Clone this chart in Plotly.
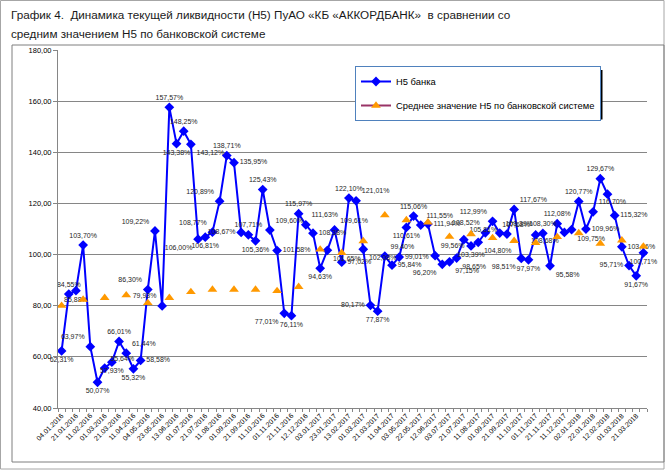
import plotly.graph_objects as go

# ---------------- data ----------------
dates = [
    "04.01.2016", "11.01.2016", "21.01.2016", "01.02.2016", "11.02.2016", "22.02.2016",
    "01.03.2016", "11.03.2016", "21.03.2016", "01.04.2016", "11.04.2016", "21.04.2016",
    "04.05.2016", "11.05.2016", "23.05.2016", "01.06.2016", "13.06.2016", "21.06.2016",
    "01.07.2016", "11.07.2016", "21.07.2016", "01.08.2016", "11.08.2016", "22.08.2016",
    "01.09.2016", "12.09.2016", "21.09.2016", "03.10.2016", "11.10.2016", "21.10.2016",
    "01.11.2016", "11.11.2016", "21.11.2016", "01.12.2016", "12.12.2016", "21.12.2016",
    "03.01.2017", "11.01.2017", "23.01.2017", "01.02.2017", "13.02.2017", "21.02.2017",
    "01.03.2017", "13.03.2017", "21.03.2017", "03.04.2017", "11.04.2017", "21.04.2017",
    "03.05.2017", "11.05.2017", "22.05.2017", "01.06.2017", "12.06.2017", "21.06.2017",
    "03.07.2017", "11.07.2017", "21.07.2017", "01.08.2017", "11.08.2017", "21.08.2017",
    "01.09.2017", "11.09.2017", "21.09.2017", "02.10.2017", "11.10.2017", "23.10.2017",
    "01.11.2017", "13.11.2017", "21.11.2017", "01.12.2017", "11.12.2017", "21.12.2017",
    "02.01.2018", "11.01.2018", "22.01.2018", "01.02.2018", "12.02.2018", "21.02.2018",
    "01.03.2018", "12.03.2018", "21.03.2018", "02.04.2018",
]

bank_h5 = [
    62.31, 84.55, 85.88, 103.70, 63.97, 50.07, 55.64, 57.93, 66.01, 61.44,
    55.32, 58.58, 86.30, 109.22, 79.93, 157.57, 143.38, 148.25, 143.12, 106.00,
    106.81, 108.77, 120.89, 138.71, 135.95, 108.67, 107.71, 105.36, 125.43, 109.60,
    101.58, 77.01, 76.11, 115.97, 111.63, 108.38, 94.63, 101.65, 109.61, 97.02,
    122.10, 121.01, 102.08, 80.17, 77.87, 99.40, 95.84, 99.01, 110.61, 115.06,
    111.55, 111.94, 99.56, 96.20, 97.15, 98.65, 105.81, 103.39, 104.80, 108.52,
    112.99, 108.39, 108.00, 117.67, 98.51, 97.97, 107.68, 108.30, 95.58, 112.08,
    108.68, 109.75, 120.77, 109.96, 116.70, 129.67, 123.60, 115.32, 103.06, 95.71,
    91.67, 100.71,
]

# average over the banking system (monthly, first date of each month)
system_dates = [
    "04.01.2016", "01.02.2016", "01.03.2016", "01.04.2016", "04.05.2016", "01.06.2016",
    "01.07.2016", "01.08.2016", "01.09.2016", "03.10.2016", "01.11.2016", "01.12.2016",
    "03.01.2017", "01.02.2017", "01.03.2017", "03.04.2017", "03.05.2017", "01.06.2017",
    "03.07.2017", "01.08.2017", "01.09.2017", "02.10.2017", "01.11.2017", "01.12.2017",
    "02.01.2018", "01.02.2018", "01.03.2018", "02.04.2018",
]
system_h5 = [
    80.0, 82.4, 83.1, 84.1, 81.1, 83.1, 85.4, 86.3, 86.3, 86.3,
    85.8, 87.4, 102.0, 100.7, 105.3, 115.4, 113.5, 112.6, 107.0, 108.0,
    106.5, 105.4, 104.6, 106.9, 108.4, 104.3, 105.6, 103.2,
]

y_ticks = [40, 60, 80, 100, 120, 140, 160, 180]

# ---------------- styling helpers ----------------
POS = {"T": "top center", "B": "bottom center", "TL": "top left", "TR": "top right",
       "BL": "bottom left", "BR": "bottom right", "L": "middle left", "R": "middle right",
       "N": "top center"}
label_pos = (
    "B T B T TL B TR B T TR B R TL TL TL T B T BR BL "
    "B TL TL T R L T B T TR R BL B T TR R B BR TR R "
    "T TR BR L B TR R R B T TR R TR BL BR BR TR B BR TL "
    "TL TR N TR BL B TL T BR T BL BR T R TR T N R R L "
    "B B"
).split()


def fmt(v):
    return f"{v:.2f}".replace(".", ",") + "%"


bank_text = ["" if p == "N" else fmt(v) for v, p in zip(bank_h5, label_pos)]

# map system values onto full category list (gaps elsewhere)
sys_map = dict(zip(system_dates, system_h5))
system_full = [sys_map.get(d) for d in dates]

W, H = 669, 470
ML, MR, MT, MB = 58, 22, 50, 62
PW, PH = W - ML - MR, H - MT - MB


def px(x):
    return (x - ML) / PW


def py(y):
    return 1 - (y - MT) / PH


FONT = "Liberation Sans, Arial"

fig = go.Figure()

fig.add_trace(go.Scatter(
    x=dates, y=bank_h5, name="Н5 банка", mode="lines+markers+text",
    line=dict(color="#0000FF", width=2),
    marker=dict(symbol="diamond", size=7.5, color="#0000FF"),
    text=bank_text, textposition=[POS[p] for p in label_pos],
    textfont=dict(family=FONT, size=7, color="#262626"),
    legendgroup="a", cliponaxis=False,
))

fig.add_trace(go.Scatter(
    x=dates, y=system_full, name="Среднее значение Н5 по банковской системе",
    mode="lines+markers", connectgaps=False,
    line=dict(color="#993366", width=2),
    marker=dict(symbol="triangle-up", size=8.5, color="#FF9900"),
    legendgroup="b", cliponaxis=False,
))

tickvals = list(range(len(dates)))
ticktext = [d if i % 2 == 0 else "" for i, d in enumerate(dates)]

fig.update_layout(
    width=W, height=H, autosize=False,
    margin=dict(l=ML, r=MR, t=MT, b=MB, pad=0),
    paper_bgcolor="white", plot_bgcolor="white",
    separators=", ",
    showlegend=True,
    legend=dict(
        x=px(355), y=py(66), xanchor="left", yanchor="top",
        bgcolor="white", bordercolor="#4F81BD", borderwidth=1,
        font=dict(family=FONT, size=9.4, color="#000000"),
        tracegroupgap=5, itemwidth=30,
    ),
    font=dict(family=FONT, color="#000000"),
)

fig.update_xaxes(
    type="category", range=[-0.5, len(dates) - 0.5],
    tickmode="array", tickvals=tickvals, ticktext=ticktext,
    tickangle=-45, tickfont=dict(size=7, color="#000000"),
    showline=True, linecolor="#868686", linewidth=1,
    ticks="outside", ticklen=3, tickcolor="#868686", tickson="boundaries",
    showgrid=False, zeroline=False,
)
fig.update_yaxes(
    range=[40, 180], tickmode="array", tickvals=y_ticks,
    tickformat=",.2f", ticksuffix="%",
    tickfont=dict(size=7.5, color="#000000"),
    showline=True, linecolor="#868686", linewidth=1,
    ticks="outside", ticklen=4, tickcolor="#868686",
    showgrid=True, gridcolor="#868686", gridwidth=1, zeroline=False,
)

# title
TITLE_FONT = dict(family=FONT, size=11.7, color="#1a1a1a")
fig.add_annotation(
    text="График 4.  Динамика текущей ликвидности (Н5) ПуАО «КБ «АККОРДБАНК»  в сравнении со",
    xref="paper", yref="paper", x=px(9), y=py(14), xanchor="left", yanchor="middle",
    showarrow=False, font=TITLE_FONT,
)
fig.add_annotation(
    text="средним значением Н5 по банковской системе",
    xref="paper", yref="paper", x=px(9), y=py(33), xanchor="left", yanchor="middle",
    showarrow=False, font=TITLE_FONT,
)

# frames
fig.add_shape(type="rect", xref="paper", yref="paper", x0=px(0.5), x1=px(664), y0=py(469), y1=py(0.5),
              line=dict(color="#A6A6A6", width=1), layer="below")
fig.add_shape(type="rect", xref="paper", yref="paper", x0=px(12), x1=px(664), y0=py(462), y1=py(45),
              line=dict(color="#7F7F7F", width=1), layer="below")
# legend shadow
fig.add_shape(type="rect", xref="paper", yref="paper", x0=px(358), x1=px(602.5), y0=py(119.5), y1=py(70),
              line=dict(width=0), fillcolor="#000000", layer="above")

fig.write_html(
    "out.html",
    config={"displayModeBar": False},
    post_script="document.body.style.margin='0';document.body.style.overflow='hidden';",
)
